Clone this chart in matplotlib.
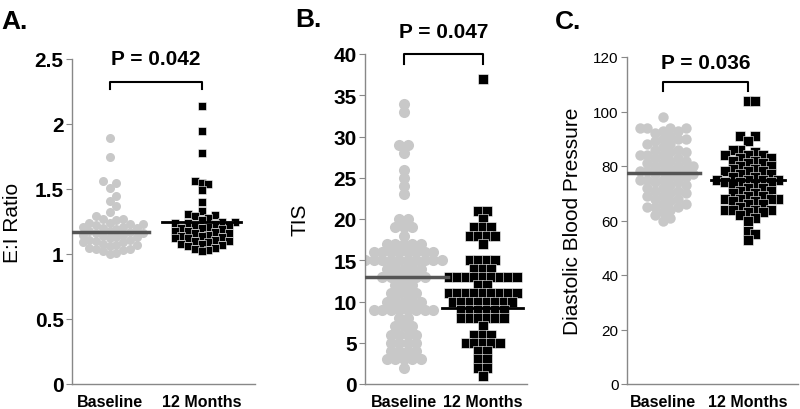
import numpy as np
import matplotlib
matplotlib.use("Agg")
import matplotlib.pyplot as plt

plt.rcParams['font.family'] = ['Liberation Sans', 'DejaVu Sans']

grupos = ['Baseline', '12 Months']

# A. E:I ratio
ei_base = [1.89, 1.75, 1.56, 1.55, 1.51, 1.45, 1.41, 1.37, 1.32, 1.29, 1.27, 1.27, 1.26,
           1.24, 1.24, 1.23, 1.23, 1.22, 1.21, 1.21, 1.20, 1.20, 1.19, 1.18, 1.18, 1.17,
           1.16, 1.16, 1.15, 1.15, 1.14, 1.13, 1.13, 1.12, 1.11, 1.11, 1.10, 1.09, 1.09,
           1.08, 1.07, 1.07, 1.06, 1.05, 1.04, 1.04, 1.03, 1.02, 1.01, 1.00]
ei_12m = [2.14, 1.95, 1.78, 1.56, 1.55, 1.54, 1.49, 1.40, 1.33, 1.31, 1.30, 1.29, 1.28,
          1.26, 1.25, 1.25, 1.24, 1.24, 1.23, 1.22, 1.22, 1.21, 1.20, 1.20, 1.19, 1.18,
          1.18, 1.17, 1.16, 1.16, 1.15, 1.14, 1.14, 1.13, 1.12, 1.12, 1.11, 1.10, 1.10,
          1.09, 1.08, 1.08, 1.07, 1.06, 1.05, 1.04, 1.03, 1.02]
ei_linhas = [1.17, 1.245]

# B. TIS
tis_base = ([34, 33, 29, 29, 28, 26, 25, 24, 23, 20, 20, 19, 19, 19, 18] + [17] * 5 + [16] * 8
            + [15] * 10 + [14] * 5 + [13] * 6 + [12] * 3 + [11] * 4 + [10] * 5 + [9] * 8
            + [8] * 2 + [7] * 3 + [6] * 4 + [5] * 4 + [4] * 4 + [3] * 5 + [2])
tis_12m = ([37, 21, 21, 20, 19, 19, 19, 18, 18, 18, 18, 17] + [15] * 4 + [14] * 3 + [13] * 9
           + [12] * 2 + [11] * 9 + [10] * 8 + [9] * 6 + [8] * 6 + [7] + [6] * 3 + [5] * 5
           + [4] * 2 + [3] * 2 + [2] * 2 + [1])
tis_linhas = [13.0, 9.2]

# C. Diastolic blood pressure
pad_base = [98, 94, 94, 94, 93, 93, 92, 94, 91, 90, 90, 90, 89, 88, 88, 87, 86, 86, 85, 85,
            84, 84, 84, 83, 83, 82, 82, 81, 81, 80, 80, 80, 79, 79, 78, 78, 78, 77, 77, 77,
            76, 76, 75, 75, 75, 74, 74, 73, 73, 72, 72, 71, 71, 70, 70, 69, 69, 68, 68, 67,
            66, 66, 65, 65, 65, 64, 63, 62, 61, 60]
pad_12m = [104, 104, 91, 91, 89, 86, 86, 85, 84, 84, 84, 83, 83, 82, 82, 81, 81, 80, 80, 79,
           79, 78, 78, 78, 77, 77, 76, 76, 75, 75, 75, 75, 74, 74, 74, 73, 73, 72, 72, 71,
           71, 70, 70, 69, 69, 68, 68, 68, 68, 67, 67, 66, 66, 65, 64, 64, 64, 64, 63, 63,
           62, 61, 60, 56, 55, 53]
pad_linhas = [77.5, 75.0]

W, H = 800, 410
fig = plt.figure(figsize=(W / 100, H / 100), dpi=100)

def eixo(esq, topo, dir, base):
    return fig.add_axes([esq / W, 1 - base / H, (dir - esq) / W, (base - topo) / H])

def enxame(valores, py, d, thr):
    # beeswarm simples em pixels (passo horizontal = d*thr)
    passo = d * thr
    ordem = np.argsort(valores)
    offs = np.zeros(len(valores))
    colocados = []
    for i in ordem:
        y = valores[i] * py
        k = 0
        achou = False
        while not achou:
            for off in ([0] if k == 0 else [k * passo, -k * passo]):
                if all((off - ox) ** 2 + (y - oy) ** 2 >= (passo - 0.01) ** 2 for ox, oy in colocados):
                    offs[i] = off
                    colocados.append((off, y))
                    achou = True
                    break
            k += 1
    return offs

def em_linhas(valores, passo):
    # valores inteiros: cada valor vira uma linha centrada (estilo Prism)
    valores = np.asarray(valores)
    offs = np.zeros(len(valores))
    for v in np.unique(valores):
        idx = np.where(valores == v)[0]
        n = len(idx)
        offs[idx] = (np.arange(n) - (n - 1) / 2) * passo
    return offs

paineis = [
    dict(letra='A.', pos=(72, 60, 255, 385), xlim=(0.59, 2.58), ylim=(0, 2.5),
         ticks=[0, 0.5, 1, 1.5, 2, 2.5], dados=(ei_base, ei_12m), linhas=ei_linhas,
         ylabel='E:I Ratio', ylab_x=22, tsize=15, tbold=True, d=7.5, ms=6.5, thr=0.9,
         p='P = 0.042', brk=(2.32, 2.27), p_y=2.5, letra_xy=(1, 22), tipo='enxame'),
    dict(letra='B.', pos=(365, 55, 527, 385), xlim=(0.51, 2.56), ylim=(0, 40),
         ticks=[0, 5, 10, 15, 20, 25, 30, 35, 40], dados=(tis_base, tis_12m), linhas=tis_linhas,
         ylabel='TIS', ylab_x=310, tsize=15, tbold=True, d=8.5, ms=8, thr=1.0,
         p='P = 0.047', brk=(40, 38.8), p_y=42.7, letra_xy=(295, 20), tipo='linhas'),
    dict(letra='C.', pos=(627, 58, 798, 385), xlim=(0.58, 2.59), ylim=(0, 120),
         ticks=[0, 20, 40, 60, 80, 100, 120], dados=(pad_base, pad_12m), linhas=pad_linhas,
         ylabel='Diastolic Blood Pressure', ylab_x=582, tsize=11, tbold=False, d=8.5, ms=7.5,
         thr=0.9, p='P = 0.036', brk=(111, 107.5), p_y=118, letra_xy=(555, 22), tipo='enxame'),
]

for pn in paineis:
    esq, topo, dir, base = pn['pos']
    ax = eixo(esq, topo, dir, base)
    ax.set_xlim(*pn['xlim'])
    ax.set_ylim(*pn['ylim'])
    px = (dir - esq) / (pn['xlim'][1] - pn['xlim'][0])
    py = (base - topo) / (pn['ylim'][1] - pn['ylim'][0])

    for j, (vals, cor) in enumerate(zip(pn['dados'], ['#c8c8c8', 'black'])):
        vals = np.array(vals, dtype=float)
        if pn['tipo'] == 'linhas':
            offs = em_linhas(vals, pn['d'])
        else:
            offs = enxame(vals, py, pn['d'], pn['thr'])
        x = (j + 1) + offs / px
        if j == 0:
            ax.plot(x, vals, 'o', ms=pn['ms'], color=cor, mec='none', zorder=2)
        else:
            ax.plot(x, vals, 's', ms=pn['ms'] - 0.5, color=cor, mec='white', mew=0.4, zorder=2)
        meia = (np.abs(offs).max() + pn['d'] / 2 + 2) / px
        ax.plot([j + 1 - meia, j + 1 + meia], [pn['linhas'][j]] * 2,
                color='#555555' if j == 0 else 'black', lw=2.5 if j == 0 else 2, zorder=3)

    for s in ['top', 'right']:
        ax.spines[s].set_visible(False)
    for s in ['left', 'bottom']:
        ax.spines[s].set_color('#888888')
        ax.spines[s].set_linewidth(1)
    ax.set_yticks(pn['ticks'])
    ax.set_yticklabels([f'{t:g}' for t in pn['ticks']], fontsize=pn['tsize'],
                       fontweight='bold' if pn['tbold'] else 'normal')
    ax.tick_params(axis='y', length=4, color='#888888', pad=2)
    ax.set_xticks([1, 2])
    ax.set_xticklabels(grupos, fontsize=11.5, fontweight='bold')
    ax.tick_params(axis='x', length=0, pad=7)

    ax.set_ylabel(pn['ylabel'], fontsize=15)
    ax.yaxis.set_label_coords((pn['ylab_x'] - esq) / (dir - esq), 0.5)

    # colchete e valor de P
    yt, yb = pn['brk']
    ax.plot([1, 1, 2, 2], [yb, yt, yt, yb], color='black', lw=1.5, clip_on=False)
    ax.text(1.5, pn['p_y'], pn['p'], ha='center', va='center', fontsize=15,
            fontweight='bold', clip_on=False)

    fig.text(pn['letra_xy'][0] / W, 1 - pn['letra_xy'][1] / H, pn['letra'],
             fontsize=19, fontweight='bold', ha='left', va='center')

fig.savefig('out.png', dpi=100)
